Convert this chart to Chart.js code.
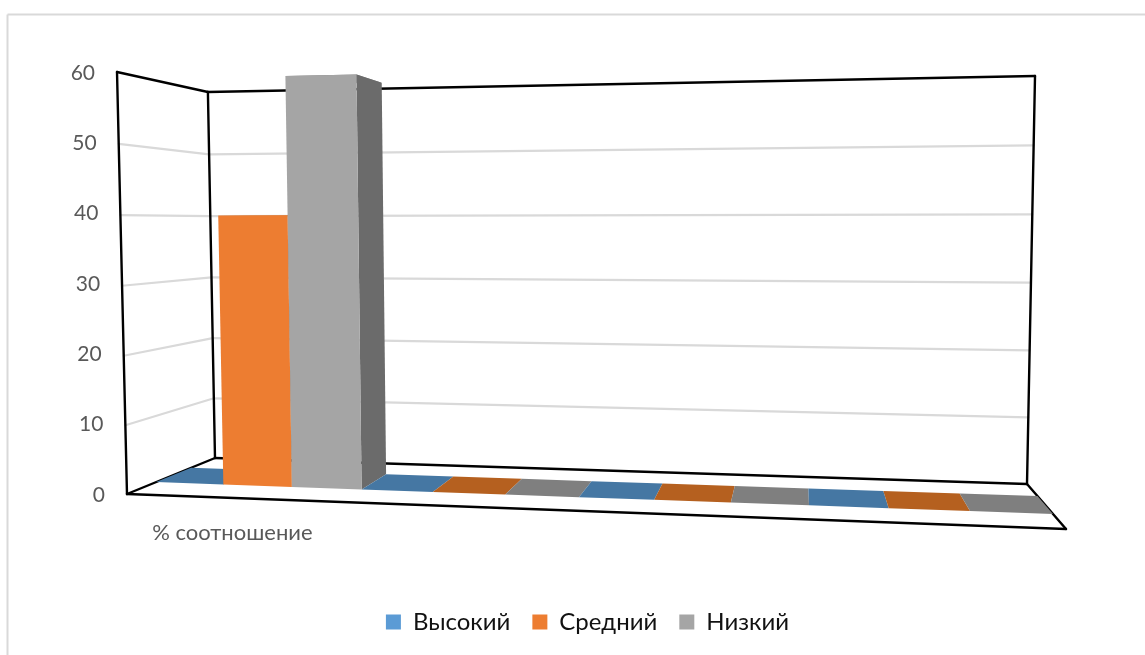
<!DOCTYPE html>
<html>
<head>
<meta charset="utf-8">
<title>Уровень</title>
<script src="https://cdn.jsdelivr.net/npm/chart.js@4"></script>
<style>
  html, body { margin: 0; padding: 0; background: #fff; overflow: hidden; }
  canvas { display: block; }
</style>
</head>
<body>
<canvas id="myChart" width="1145" height="655"></canvas>
<script>
// values
const categories = ['% соотношение', '', '', ''];
const seriesNames = ['Высокий', 'Средний', 'Низкий'];
const highValues = [0, 0, 0, 0];
const middleValues = [40, 0, 0, 0];
const lowValues = [60, 0, 0, 0];
const yTicks = [0, 10, 20, 30, 40, 50, 60];

const frontColors = ['#5b9bd5', '#ed7d31', '#a5a5a5'];
const topColors = ['#4577a3', '#b5601f', '#7f7f7f'];
const sideColors = ['#41719c', '#a9561f', '#6b6b6b'];

// floor of the 3d box on the screen: front-left, front-right, back-right, back-left
const floorBox = [[127, 494], [1066, 529], [1027, 484], [215, 458]];
// how tall the walls are at those same corners, and where the uprights meet
const wallHeights = [422, 476, 408, 366];
const upVanish = [619, 21270];
// the walls squeeze a little towards the floor
const wallBend = 0.026;
// bars stand in this slice of the depth
const rowFront = 0.30;
const rowBack = 0.70;

function quadMap(q) {
    let dx1 = q[1][0] - q[2][0], dx2 = q[3][0] - q[2][0], sx = q[0][0] - q[1][0] + q[2][0] - q[3][0];
    let dy1 = q[1][1] - q[2][1], dy2 = q[3][1] - q[2][1], sy = q[0][1] - q[1][1] + q[2][1] - q[3][1];
    let det = dx1 * dy2 - dx2 * dy1;
    let g = (sx * dy2 - dx2 * sy) / det;
    let h = (dx1 * sy - sx * dy1) / det;
    let a = q[1][0] - q[0][0] + g * q[1][0], b = q[3][0] - q[0][0] + h * q[3][0];
    let d = q[1][1] - q[0][1] + g * q[1][1], e = q[3][1] - q[0][1] + h * q[3][1];
    return (u, v) => {
        let w = g * u + h * v + 1;
        return [(a * u + b * v + q[0][0]) / w, (d * u + e * v + q[0][1]) / w];
    };
}
const floorMap = quadMap(floorBox);

// u along the categories, v into the depth, t up the value axis (all 0..1)
function project(u, v, t) {
    let f = floorMap(u, v);
    let inv = (1 - v) * ((1 - u) / wallHeights[0] + u / wallHeights[1]) + v * ((1 - u) / wallHeights[3] + u / wallHeights[2]);
    let up = (t - wallBend * t * (1 - t)) / inv;
    let lean = (upVanish[0] - f[0]) / (upVanish[1] - f[1]);
    return [f[0] - lean * up, f[1] - up];
}

function poly(ctx, pts, color) {
    ctx.beginPath();
    pts.forEach((p, i) => i ? ctx.lineTo(p[0], p[1]) : ctx.moveTo(p[0], p[1]));
    ctx.closePath();
    ctx.fillStyle = color;
    ctx.fill();
}

function segment(ctx, a, b) {
    ctx.beginPath();
    ctx.moveTo(a[0], a[1]);
    ctx.lineTo(b[0], b[1]);
    ctx.stroke();
}

const box3d = {
    id: 'box3d',
    beforeDraw(chart) {
        let ctx = chart.ctx;
        ctx.save();
        ctx.strokeStyle = '#d9d9d9';
        ctx.lineWidth = 2;
        segment(ctx, [7.5, 655], [7.5, 14.5]);
        segment(ctx, [7.5, 14.5], [1145, 14.5]);
        ctx.restore();
    },
    beforeDatasetsDraw(chart) {
        let ctx = chart.ctx, area = chart.chartArea, yScale = chart.scales.y;
        ctx.save();
        ctx.lineCap = 'round';
        ctx.lineJoin = 'round';

        // grid lines on the two walls
        ctx.strokeStyle = '#d9d9d9';
        ctx.lineWidth = 2.2;
        yScale.ticks.forEach((tick, i) => {
            if (tick.value === 0 || tick.value === 60) return;
            let t = (area.bottom - yScale.getPixelForTick(i)) / area.height;
            segment(ctx, project(0, 0, t), project(0, 1, t));
            segment(ctx, project(0, 1, t), project(1, 1, t));
        });

        // tick labels follow the slanted front edge
        ctx.fillStyle = '#595959';
        ctx.font = '21px Lato';
        ctx.textAlign = 'right';
        ctx.textBaseline = 'middle';
        yScale.ticks.forEach((tick, i) => {
            let t = (area.bottom - yScale.getPixelForTick(i)) / area.height;
            ctx.fillText(tick.label, project(0, 0, t)[0] - 22, yScale.getPixelForTick(i) + 1);
        });

        // box outline
        ctx.strokeStyle = '#000';
        ctx.lineWidth = 2.4;
        segment(ctx, project(0, 0, 0), project(0, 0, 1));
        segment(ctx, project(0, 0, 1), project(0, 1, 1));
        segment(ctx, project(0, 1, 0), project(0, 1, 1));
        segment(ctx, project(0, 1, 1), project(1, 1, 1));
        segment(ctx, project(1, 1, 0), project(1, 1, 1));
        segment(ctx, project(0, 0, 0), project(1, 0, 0));
        segment(ctx, project(1, 0, 0), project(1, 1, 0));
        segment(ctx, project(1, 1, 0), project(0, 1, 0));
        segment(ctx, project(0, 1, 0), project(0, 0, 0));

        // bars come from the bar elements, pushed through the projection, left to right
        let bars = [];
        chart.data.datasets.forEach((ds, s) => {
            chart.getDatasetMeta(s).data.forEach(el => bars.push({ el, s }));
        });
        bars.sort((a, b) => a.el.x - b.el.x);
        bars.forEach(({ el, s }) => {
            let u0 = (el.x - el.width / 2 - area.left) / area.width;
            let u1 = (el.x + el.width / 2 - area.left) / area.width;
            let t = (el.base - el.y) / area.height;
            let a = project(u0, rowFront, t), b = project(u1, rowFront, t);
            let c = project(u1, rowBack, t), d = project(u0, rowBack, t);
            poly(ctx, [a, b, c, d], topColors[s]);
            if (t > 0) {
                poly(ctx, [project(u1, rowFront, 0), project(u1, rowBack, 0), c, b], sideColors[s]);
                poly(ctx, [project(u0, rowFront, 0), project(u1, rowFront, 0), b, a], frontColors[s]);
            }
        });
        ctx.restore();
        return false;
    }
};

new Chart(document.getElementById('myChart').getContext('2d'), {
    type: 'bar',
    data: {
        labels: categories,
        datasets: [
            { label: seriesNames[0], data: highValues, backgroundColor: frontColors[0] },
            { label: seriesNames[1], data: middleValues, backgroundColor: frontColors[1] },
            { label: seriesNames[2], data: lowValues, backgroundColor: frontColors[2] }
        ]
    },
    options: {
        responsive: false,
        animation: false,
        devicePixelRatio: 1,
        categoryPercentage: 1,
        barPercentage: 1,
        // left padding plus the empty right axis keep the legend centred where it was
        layout: { padding: { left: 30, right: 0, top: 72, bottom: 11 } },
        scales: {
            x: {
                grid: { display: false },
                border: { display: false },
                afterFit: s => { s.height = 94; },
                ticks: {
                    autoSkip: false,
                    maxRotation: 0,
                    padding: 18,
                    labelOffset: -12,
                    color: '#595959',
                    font: { family: 'Lato', size: 22 }
                }
            },
            y: {
                min: 0,
                max: 60,
                grid: { display: false },
                border: { display: false },
                afterBuildTicks: s => { s.ticks = yTicks.map(v => ({ value: v })); },
                afterFit: s => { s.width = 97; },
                ticks: { display: false }
            },
            yRight: {
                position: 'right',
                grid: { display: false },
                border: { display: false },
                afterFit: s => { s.width = 79; },
                ticks: { display: false }
            }
        },
        plugins: {
            tooltip: { enabled: false },
            legend: {
                position: 'bottom',
                labels: {
                    boxWidth: 15,
                    boxHeight: 15,
                    padding: 22,
                    color: '#111',
                    font: { family: 'Lato', size: 24 }
                }
            }
        }
    },
    plugins: [box3d]
});
</script>
</body>
</html>
